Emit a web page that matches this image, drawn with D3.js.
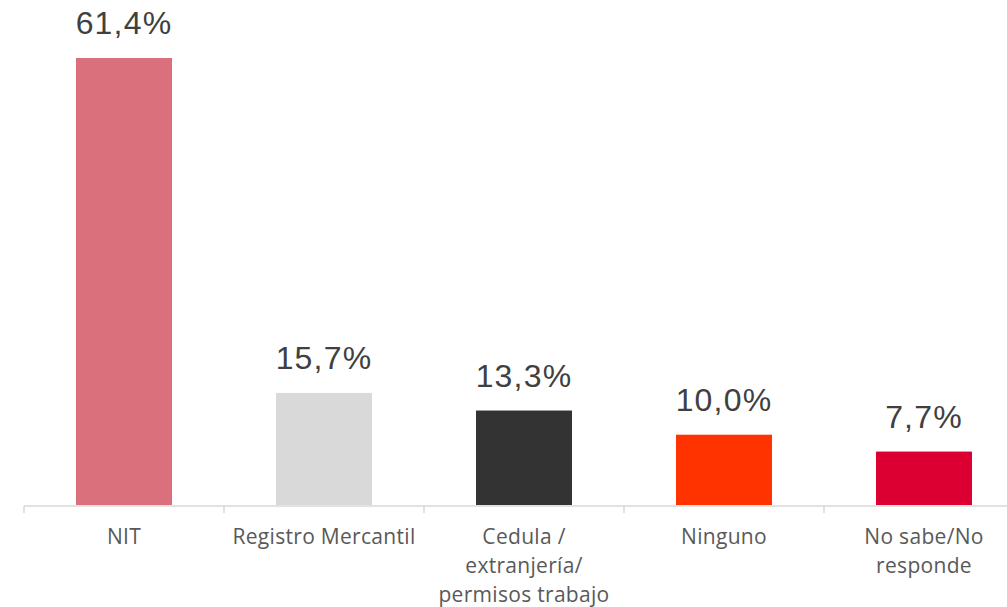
<!DOCTYPE html>
<html>
<head>
<meta charset="utf-8">
<script src="https://cdn.jsdelivr.net/npm/d3@7"></script>
<style>
  body { margin: 0; background: #fff; }
  svg { display: block; font-family: "Liberation Sans", Arial, sans-serif; }
</style>
</head>
<body>
<div id="chart"></div>
<script>
const categories = ['NIT', 'Registro Mercantil', 'Cedula / extranjería/ permisos trabajo', 'Ninguno', 'No sabe/No responde'];
const tickLines = [['NIT'], ['Registro Mercantil'], ['Cedula /', 'extranjería/', 'permisos trabajo'], ['Ninguno'], ['No sabe/No', 'responde']];
const values = [61.4, 15.7, 13.3, 10.0, 7.7];
const colors = ['#DB707D', '#D9D9D9', '#333333', '#FF3300', '#DC0032'];

const width = 1007, height = 607;
const baseY = 505;

const svg = d3.select('#chart').append('svg')
  .attr('width', width)
  .attr('height', height);

const x = d3.scaleBand()
  .domain(categories)
  .range([24, 1024])
  .paddingInner(0.52)
  .paddingOuter(0.26);

const step = x.step();

const y = d3.scaleLinear()
  .domain([0, 61.4])
  .range([508, 58]);

// axis line and ticks
svg.append('line')
  .attr('x1', 24).attr('x2', width)
  .attr('y1', baseY + 1).attr('y2', baseY + 1)
  .attr('stroke', '#D9D9D9').attr('stroke-width', 1.5);

categories.forEach(c => {
  const tx = x(c) - (step - x.bandwidth()) / 2;
  svg.append('line')
    .attr('x1', tx).attr('x2', tx)
    .attr('y1', baseY + 1).attr('y2', baseY + 8)
    .attr('stroke', '#D9D9D9').attr('stroke-width', 1.5);
});

svg.selectAll('rect.bar')
  .data(values)
  .enter().append('rect')
  .attr('class', 'bar')
  .attr('x', (d, i) => x(categories[i]))
  .attr('width', x.bandwidth())
  .attr('y', d => y(d))
  .attr('height', d => baseY - y(d))
  .attr('fill', (d, i) => colors[i]);

svg.selectAll('text.val')
  .data(values)
  .enter().append('text')
  .attr('class', 'val')
  .attr('x', (d, i) => x(categories[i]) + x.bandwidth() / 2)
  .attr('y', d => y(d) - 24)
  .attr('text-anchor', 'middle')
  .attr('fill', '#404040')
  .attr('font-size', '32px')
  .attr('letter-spacing', '1.2px')
  .text(d => d.toFixed(1).replace('.', ',') + '%');

const labels = svg.selectAll('text.cat')
  .data(tickLines)
  .enter().append('text')
  .attr('class', 'cat')
  .attr('text-anchor', 'middle')
  .attr('fill', '#595959')
  .attr('font-family', '"Open Sans", sans-serif')
  .attr('font-size', '21px')
  .attr('letter-spacing', '0.3px');

labels.each(function(lines, i) {
  const cx = x(categories[i]) + x.bandwidth() / 2;
  d3.select(this).selectAll('tspan')
    .data(lines)
    .enter().append('tspan')
    .attr('x', cx)
    .attr('y', (d, j) => 544 + j * 29)
    .text(d => d);
});
</script>
</body>
</html>
